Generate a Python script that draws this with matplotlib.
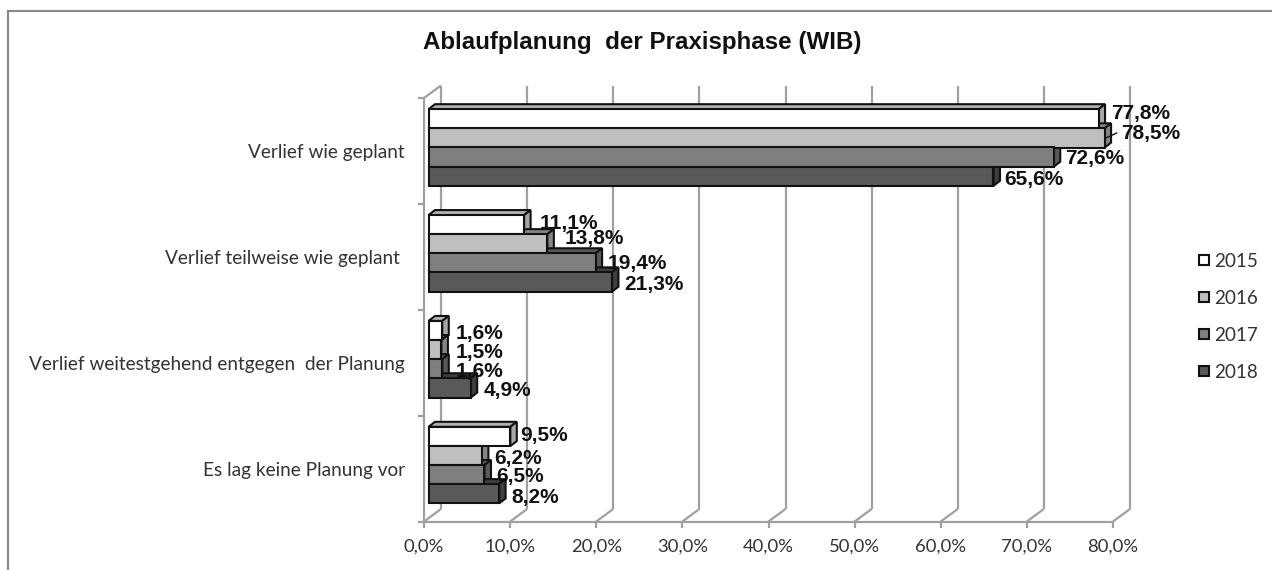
import matplotlib
matplotlib.use("Agg")
import matplotlib.pyplot as plt
from matplotlib.patches import Polygon
from matplotlib.lines import Line2D

W, H = 1272, 570
title = "Ablaufplanung  der Praxisphase (WIB)"
categories = ["Verlief wie geplant", "Verlief teilweise wie geplant ",
              "Verlief weitestgehend entgegen  der Planung", "Es lag keine Planung vor"]
years = ["2015", "2016", "2017", "2018"]
v2015 = [77.8, 11.1, 1.6, 9.5]
v2016 = [78.5, 13.8, 1.5, 6.2]
v2017 = [72.6, 19.4, 1.6, 6.5]
v2018 = [65.6, 21.3, 4.9, 8.2]
series = [v2015, v2016, v2017, v2018]
xticks = [0, 10, 20, 30, 40, 50, 60, 70, 80]

# styling
front = ["#ffffff", "#bfbfbf", "#7f7f7f", "#595959"]
top_c = ["#b2b2b2", "#858585", "#595959", "#3e3e3e"]
side_c = ["#a6a6a6", "#858585", "#595959", "#3e3e3e"]
grid_c = "#a0a0a0"
txt_c = "#333333"
# label pixel offsets from the bar's right end / centre (dx, dy-down)
lab_off = [
    [(13, -5.5), (15.5, -1.5), (13.5, 3), (9.5, -0.5)],
    [(16.5, -4), (17, -5), (14, 2.5), (12.5, 2.5)],
    [(11.5, 1), (12.5, 1), (13.5, 2.5), (12, 1.5)],
    [(10.5, 3.5), (12.5, 2.5), (12.5, 3), (12.5, 3.5)],
]

fig = plt.figure(figsize=(W / 100, H / 100), dpi=100)
L, R, T, B = 424, 1113, 98, 521.5
ax = fig.add_axes([L / W, 1 - B / H, (R - L) / W, (B - T) / H])
ax.set_xlim(0, 80)
ax.set_ylim(4, 0)
for s in ax.spines.values():
    s.set_visible(False)
ax.patch.set_visible(False)

px = 80 / (R - L)      # data per pixel, x
py = 4 / (B - T)       # data per pixel, y
wall_dx, wall_dy = 17 * px, 12.5 * py


def line(xs, ys):
    ax.plot(xs, ys, color=grid_c, lw=1.6, clip_on=False, solid_capstyle="butt", zorder=1)


# walls, floor diagonals and gridlines
for t in xticks:
    line([t, t + wall_dx], [4, 4 - wall_dy])
    line([t + wall_dx] * 2, [4 - wall_dy, -wall_dy])
line([0, 0], [0, 4])
line([0, wall_dx], [0, -wall_dy])
line([0, 80], [4, 4])

ax.set_xticks(xticks)
ax.set_xticklabels([f"{t},0%" for t in xticks], fontfamily="Lato", fontsize=13.3, color=txt_c)
ax.set_yticks(range(5))
ax.set_yticklabels([])
ax.tick_params(axis="both", length=4.5, width=1.6, color=grid_c)
ax.tick_params(axis="x", pad=8)

for i, c in enumerate(categories):
    ax.annotate(c, (0, i + 0.5), xytext=(405 - L, -2), textcoords="offset pixels",
                ha="right", va="center", fontfamily="Lato", fontsize=13.65, color=txt_c,
                annotation_clip=False)

# 3D bars
off = 4.5 * px
bh = 19.3 * py
start = 11.2 * py
pitch = 19.1 * py
bdx, bdy = 6.5 * px, 5 * py
edge = dict(edgecolor="#111111", linewidth=1.5, joinstyle="miter", clip_on=False)
for g in range(len(categories)):
    for s, vals in enumerate(series):
        y0 = g + start + s * pitch
        x1 = off + vals[g]
        ax.add_patch(Polygon([(off, y0), (off + bdx, y0 - bdy), (x1 + bdx, y0 - bdy), (x1, y0)],
                             facecolor=top_c[s], zorder=3, **edge))
        ax.add_patch(Polygon([(x1, y0), (x1 + bdx, y0 - bdy), (x1 + bdx, y0 + bh - bdy), (x1, y0 + bh)],
                             facecolor=side_c[s], zorder=3, **edge))
for s, vals in enumerate(series):
    ys = [g + start + s * pitch + bh / 2 for g in range(len(categories))]
    ax.barh(ys, vals, height=bh, left=off, color=front[s], zorder=4, **edge)
    for g, v in enumerate(vals):
        dx, dy = lab_off[s][g]
        ax.annotate(f"{v:.1f}%".replace(".", ","), (off + v, ys[g]), xytext=(dx, -dy),
                    textcoords="offset pixels", ha="left", va="center", fontfamily="Liberation Sans",
                    fontweight="bold", fontsize=15, color="#111111", zorder=6, annotation_clip=False)

# leader line for the 78,5% label
ax.annotate("", (off + v2016[0] + bdx * 0.2, start + pitch + bh / 2), xytext=(11, 5),
            textcoords="offset pixels",
            arrowprops=dict(arrowstyle="-", color="#111111", lw=1, shrinkA=0, shrinkB=0), zorder=6,
            annotation_clip=False)

handles = [Line2D([], [], marker="s", ls="", ms=7.6, mfc=front[i], mec="#111111", mew=1.5) for i in range(4)]
fig.legend(handles, years, loc="center left", bbox_to_anchor=(1196.5 / W, 1 - 317 / H), frameon=False,
           prop=dict(family="Lato", size=13.6), labelcolor=txt_c, labelspacing=1.06,
           handlelength=0.8, handletextpad=0.12, borderpad=0, borderaxespad=0)

fig.text(642.5 / W, 1 - 43 / H, title, ha="center", va="center", fontfamily="Liberation Sans",
         fontweight="bold", fontsize=17.4, color="#111111")

# outer frame: left and top edges only
fb = "#888888"
fig.add_artist(Line2D([7.5 / W, 7.5 / W, 1], [0, 1 - 11 / H, 1 - 11 / H], color=fb, lw=1.5,
                      solid_joinstyle="miter"))
fig.savefig("out.png", dpi=100)
